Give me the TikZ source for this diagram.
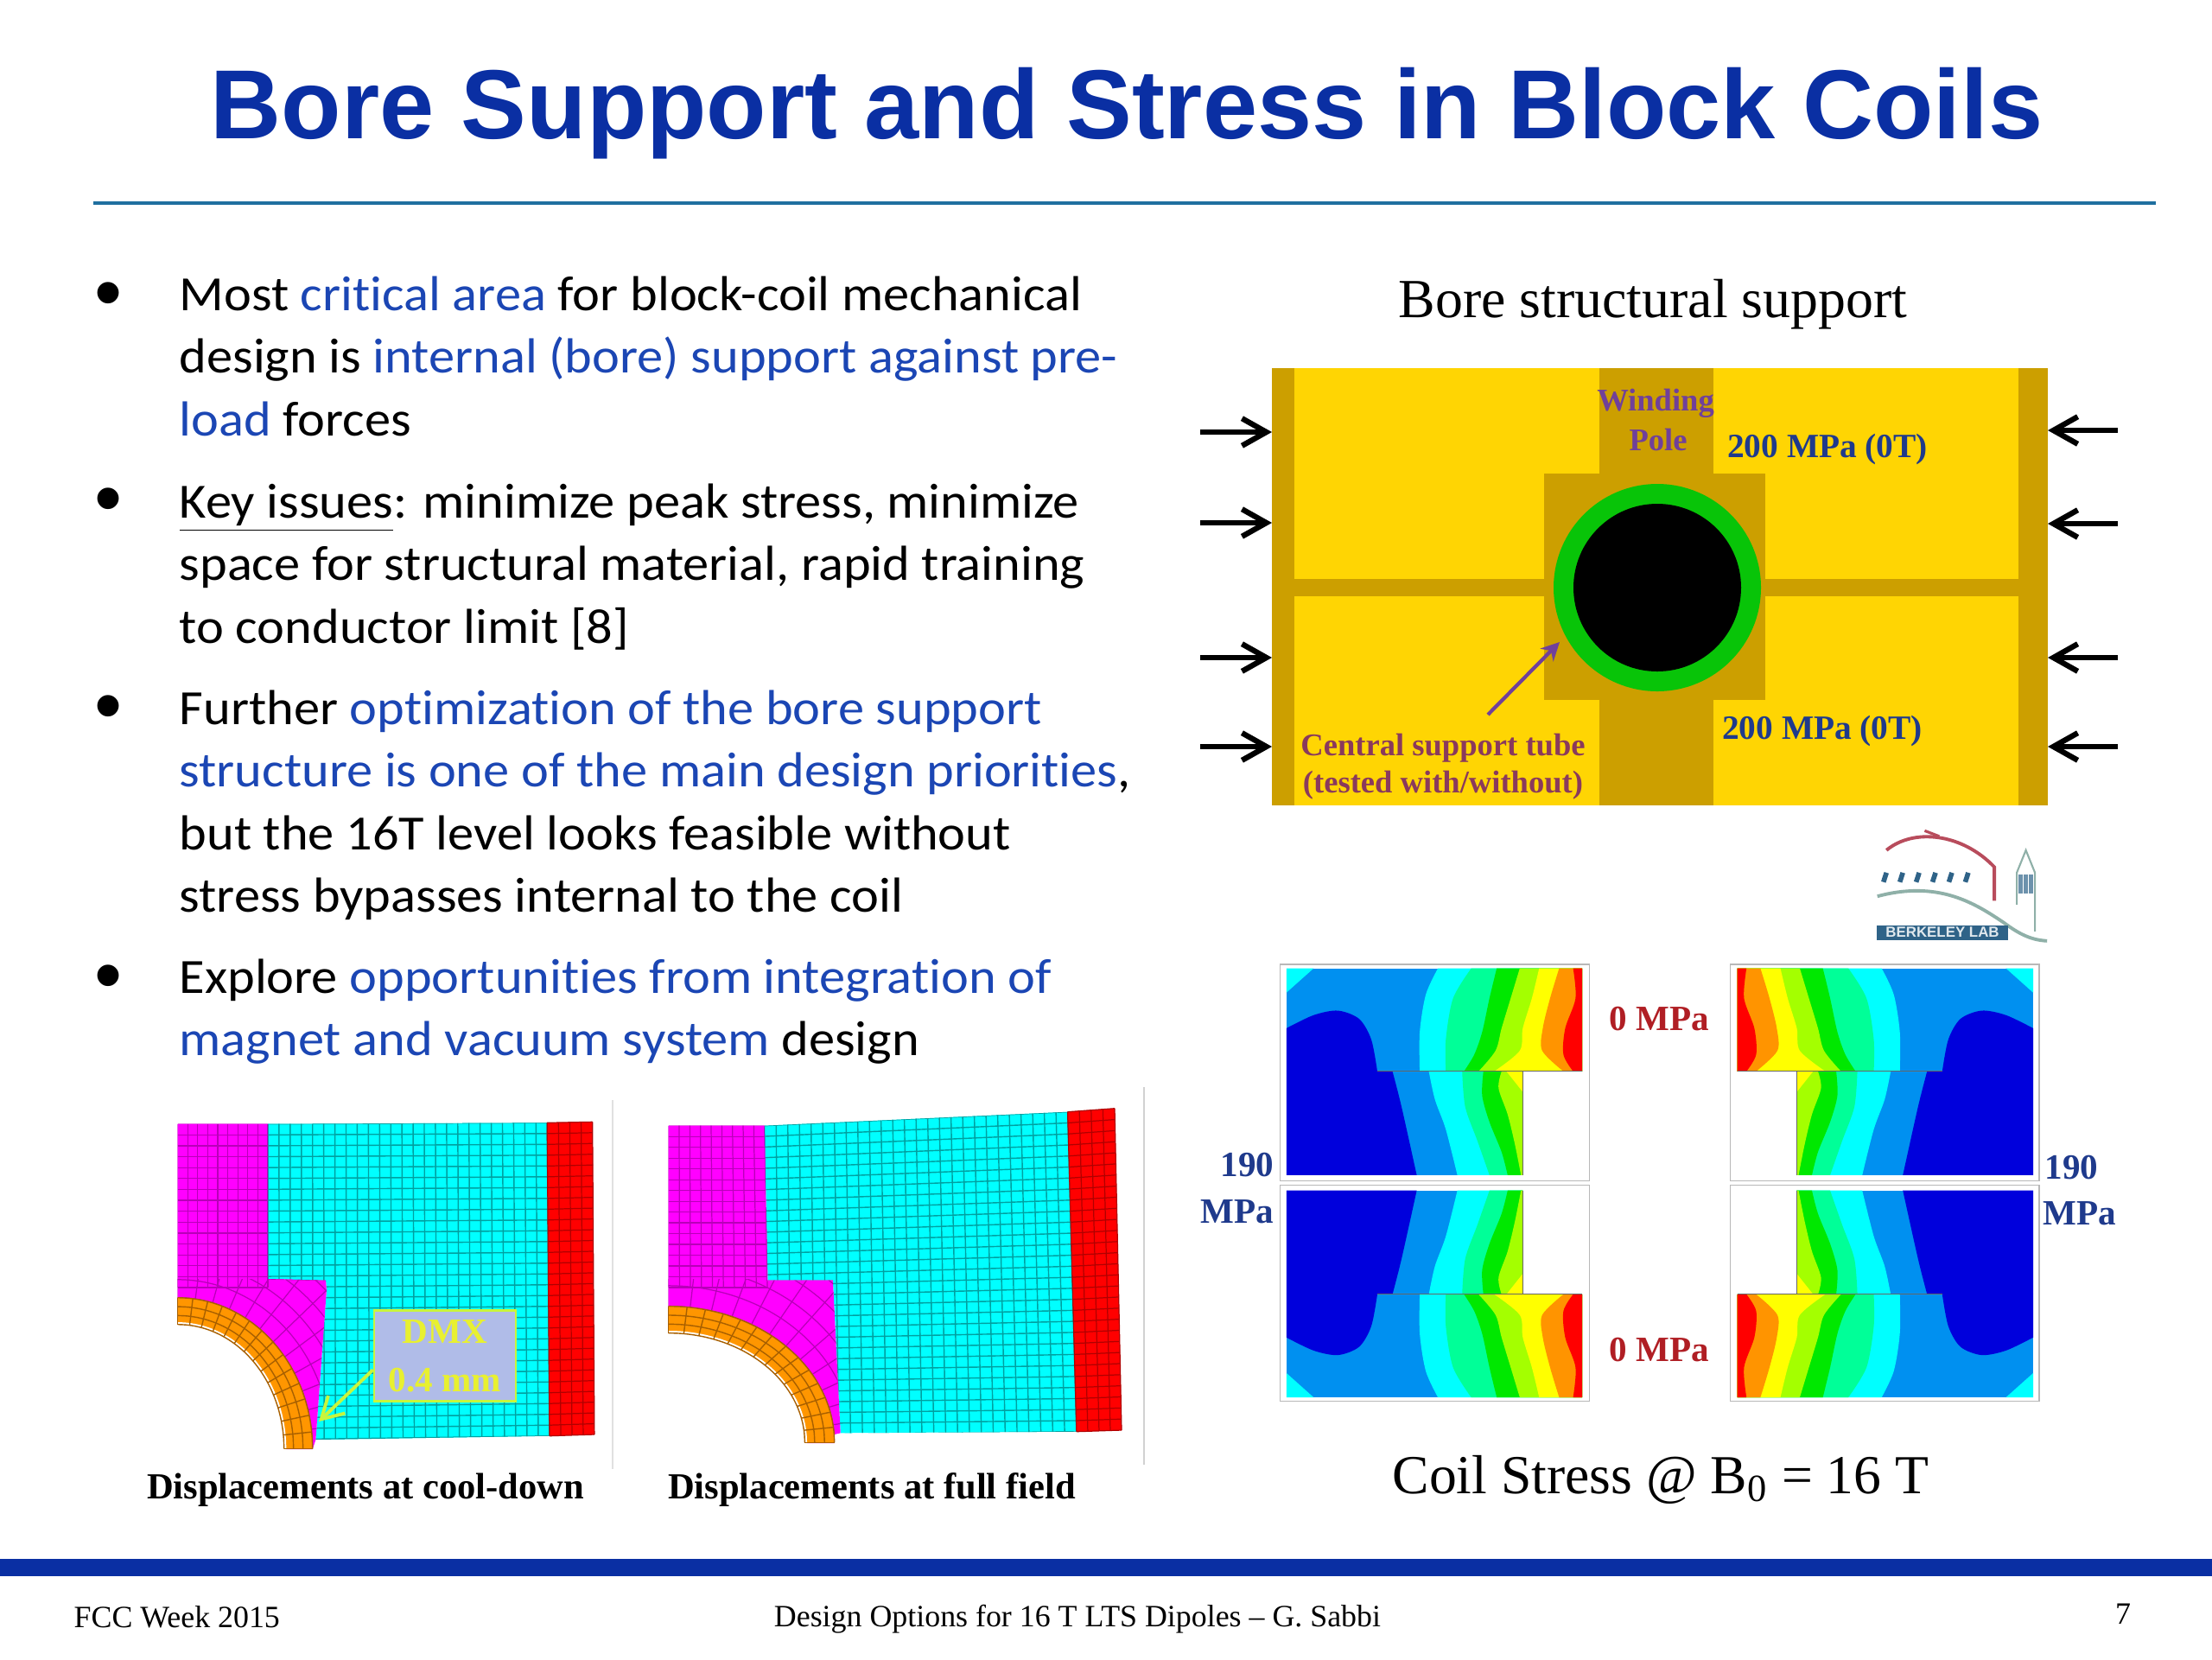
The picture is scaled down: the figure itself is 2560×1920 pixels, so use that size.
\documentclass[tikz,border=0pt]{standalone}
\usepackage{fontspec}
\setmainfont{Liberation Serif}
\newfontfamily\bodyfont[FakeStretch=1.06,Ligatures=NoCommon]{Carlito}
\newfontfamily\headfont{Liberation Sans}
\usetikzlibrary{arrows.meta,calc}
\definecolor{slideblue}{HTML}{0A2FA3}
\definecolor{textblue}{HTML}{1B46B4}
\definecolor{rulecolor}{HTML}{1F6F9F}
\definecolor{goldlight}{HTML}{FFD503}
\definecolor{golddark}{HTML}{CC9F00}
\definecolor{tubegreen}{HTML}{08C408}
\definecolor{labelblue}{HTML}{1F3A8C}
\definecolor{labelplum}{HTML}{8A3A5C}
\definecolor{labelpurple}{HTML}{70409A}
\definecolor{labelred}{HTML}{B01E24}
\definecolor{bandA}{HTML}{0000DC}
\definecolor{bandB}{HTML}{0090F0}
\definecolor{bandC}{HTML}{00FFFF}
\definecolor{bandD}{HTML}{00FF98}
\definecolor{bandE}{HTML}{00E800}
\definecolor{bandF}{HTML}{A4FF00}
\definecolor{bandG}{HTML}{FFFF00}
\definecolor{bandH}{HTML}{FF9400}
\definecolor{bandI}{HTML}{FF0000}
\definecolor{meshcyan}{HTML}{00FFFF}
\definecolor{meshpink}{HTML}{FF00FF}
\definecolor{meshorange}{HTML}{FF9600}
\definecolor{linecyan}{HTML}{00A0A0}
\definecolor{linepink}{HTML}{B800B8}
\definecolor{linered}{HTML}{B00000}
\definecolor{lineorange}{HTML}{A86000}
\definecolor{calloutedge}{HTML}{C8F53C}
\definecolor{calloutfill}{HTML}{B0BCE8}
\definecolor{callouttext}{HTML}{E8F030}
\definecolor{logored}{HTML}{B84C5C}
\definecolor{logoblue}{HTML}{2F6388}
\definecolor{logogreen}{HTML}{8FB0A8}
\tikzset{
%Define standard arrow tip
>={Straight Barb[length=8pt,width=9pt,line width=1.8pt]},
%Define style for the different labels
bodytext/.style={font=\bodyfont\fontsize{16.2}{20.6}\selectfont, anchor=north west, align=left, inner sep=0pt},
bulletdot/.style={font=\headfont\fontsize{26}{26}\selectfont, inner sep=0pt},
captiontext/.style={font=\bfseries\fontsize{12.1}{15}\selectfont, inner sep=0pt},
smalllabel/.style={font=\bfseries\fontsize{10.4}{13}\selectfont, inner sep=0pt},
loadlabel/.style={font=\bfseries\fontsize{11.2}{13}\selectfont, text=labelblue, inner sep=0pt},
sidelabel/.style={font=\bfseries\fontsize{11.7}{13}\selectfont, text=labelblue, inner sep=0pt},
footertext/.style={font=\fontsize{10.2}{12}\selectfont, inner sep=0pt},
pressarrow/.style={->, line width=1.8pt},
panelframe/.style={draw=black!28, line width=0.4pt},
pinkline/.style={linepink, line width=0.35pt},
cyanline/.style={linecyan, line width=0.4pt},
redline/.style={linered, line width=0.35pt},
orangeline/.style={lineorange, line width=0.4pt},
}
% Grid between four named corners
\newcommand{\meshgrid}[7]{%
\foreach \t in {0,...,#5} \draw[#7] ($(#1)!\t/#5!(#2)$) -- ($(#3)!\t/#5!(#4)$);
\foreach \t in {0,...,#6} \draw[#7] ($(#1)!\t/#6!(#3)$) -- ($(#2)!\t/#6!(#4)$);
}
% Quarter ring mesh: centre, inner radii, outer radii, rings, spokes, line
\newcommand{\ringmesh}[9]{%
\foreach \k in {0,...,#8} {
\pgfmathsetmacro\a{\k*90/#8}
\draw[#9] ({#1+#3*cos(\a)},{#2-#4*sin(\a)}) -- ({#1+#5*cos(\a)},{#2-#6*sin(\a)});
}
\foreach \k in {0,...,#7} {
\pgfmathsetmacro\f{\k/#7}
\draw[#9] plot[domain=0:90,samples=20,smooth,variable=\a] ({#1+(#3+\f*(#5-#3))*cos(\a)},{#2-(#4+\f*(#6-#4))*sin(\a)});
}
}
% One stress panel, upper left quadrant
\newcommand{\stresspanel}{%
\draw[panelframe] (145,360) rectangle (655,937);
\begin{scope}
\clip (155,370) rectangle (643,645);
\fill[bandB] (155,370) rectangle (643,645);
\fill[bandC] (155,370) -- (200,370) -- (155,435) -- cycle;
\fill[bandA] plot[smooth] coordinates {(155,530) (200,495) (240,483) (275,505) (295,560) (305,645)} -- (155,645) -- cycle;
\fill[bandC] plot[smooth] coordinates {(405,370) (385,440) (375,540) (375,645)} -- (700,645) -- (700,370) -- cycle;
\fill[bandD] plot[smooth] coordinates {(460,370) (430,450) (418,560) (418,645)} -- (700,645) -- (700,370) -- cycle;
\fill[bandE] plot[smooth] coordinates {(502,370) (490,450) (478,540) (465,600) (448,645)} -- (700,645) -- (700,370) -- cycle;
\fill[bandF] plot[smooth] coordinates {(540,370) (525,450) (510,530) (500,590) (472,645)} -- (700,645) -- (700,370) -- cycle;
\fill[bandG] plot[smooth] coordinates {(572,370) (560,450) (545,530) (540,590) (498,645)} -- (700,645) -- (700,370) -- cycle;
\fill[bandH] plot[smooth] coordinates {(605,370) (590,450) (578,530) (577,590) (612,645)} -- (700,645) -- (700,370) -- cycle;
\fill[bandI] plot[smooth] coordinates {(628,370) (632,450) (615,530) (612,600) (628,645)} -- (700,645) -- (700,370) -- cycle;
\end{scope}
\begin{scope}
\clip (155,645) rectangle (545,922);
\fill[bandB] (155,645) rectangle (545,922);
\fill[bandA] plot[smooth] coordinates {(330,645) (345,740) (370,922)} -- (155,922) -- (155,645) -- cycle;
\fill[bandC] plot[smooth] coordinates {(390,645) (400,720) (418,800) (437,922)} -- (600,922) -- (600,645) -- cycle;
\fill[bandD] plot[smooth] coordinates {(445,645) (450,740) (470,830) (490,922)} -- (600,922) -- (600,645) -- cycle;
\fill[bandE] plot[smooth] coordinates {(480,645) (478,710) (490,780) (510,860) (520,922)} -- (600,922) -- (600,645) -- cycle;
\fill[bandF] plot[smooth] coordinates {(510,645) (505,690) (520,760) (532,840) (542,922)} -- (600,922) -- (600,645) -- cycle;
\fill[bandG] (518,645) -- (545,645) -- (545,700) -- cycle;
\end{scope}
\draw[black!60, line width=0.3pt] (305,645) -- (643,645);
\draw[black!60, line width=0.3pt] (545,645) -- (545,922);
}

\begin{document}
\begin{tikzpicture}[x=0.01cm, y=-0.01cm]
\useasboundingbox (0,0) rectangle (2560,1920);
\fill[white] (0,0) rectangle (2560,1920);
% Title and footer
\node[font=\headfont\bfseries\fontsize{32.3}{36}\selectfont, text=slideblue, inner sep=0pt] (title) at (1304,131) {Bore Support and Stress in Block Coils};
\draw[rulecolor, line width=0.9pt] (108,235) -- (2495,235);
\fill[slideblue] (0,1804) rectangle (2560,1824);
\node[footertext, anchor=west] (footleft) at (85,1871) {FCC Week 2015};
\node[footertext] (footmid) at (1247,1874) {Design Options for 16 T LTS Dipoles -- G. Sabbi};
\node[footertext] (footpage) at (2457,1868) {7};
% Bullets
\foreach \y [count=\i] in {348,586,826,1138} \node[bulletdot] (bullet\i) at (126,\y) {\textbullet};
\node[bodytext] (itemA) at (207,319) {Most \textcolor{textblue}{critical area} for block-coil mechanical\\
design is \textcolor{textblue}{internal (bore) support against pre-}\\
\textcolor{textblue}{load} forces};
\node[bodytext] (itemB) at (207,559) {\underline{Key issues}: minimize peak stress, minimize\\
space for structural material, rapid training\\
to conductor limit [8]};
\node[bodytext] (itemC) at (207,798) {Further \textcolor{textblue}{optimization of the bore support}\\
\textcolor{textblue}{structure is one of the main design priorities},\\
but the 16T level looks feasible without\\
stress bypasses internal to the coil};
\node[bodytext] (itemD) at (207,1109) {Explore \textcolor{textblue}{opportunities from integration of}\\
\textcolor{textblue}{magnet and vacuum system} design};
% Bore structural support
\node[font=\fontsize{18.15}{20}\selectfont, inner sep=0pt] (boretitle) at (1913,352) {Bore structural support};
\fill[goldlight] (1472,426) rectangle (2370,932);
\fill[golddark] (1472,426) rectangle (1498,932);
\fill[golddark] (2336,426) rectangle (2370,932);
\fill[golddark] (1472,670) rectangle (2370,690);
\fill[golddark] (1851,426) rectangle (1983,932);
\fill[golddark] (1787,548) rectangle (2043,810);
\fill[tubegreen] (1918,680) circle (120);
\fill[black] (1918,680) circle (97);
\foreach \y [count=\i] in {500,605,761,864} {
\coordinate (pressL\i) at (1389,\y);
\coordinate (padL\i) at (1472,\y);
\draw[pressarrow] (pressL\i) -- (padL\i);
}
\foreach \y [count=\i] in {498,606,761,864} {
\coordinate (pressR\i) at (2451,\y);
\coordinate (padR\i) at (2370,\y);
\draw[pressarrow] (pressR\i) -- (padR\i);
}
\node[smalllabel, text=labelpurple] (winding) at (1916,467) {Winding};
\node[smalllabel, text=labelpurple] (pole) at (1919,509) {Pole};
\node[loadlabel] (loadtop) at (2115,520) {200 MPa (0T)};
\node[loadlabel] (loadbot) at (2109,846) {200 MPa (0T)};
\node[smalllabel, text=labelplum] (tubeA) at (1670,866) {Central support tube};
\node[smalllabel, text=labelplum] (tubeB) at (1670,909) {(tested with/without)};
\coordinate (tubetail) at (1722,827);
\coordinate (tubetip) at (1805,743);
\draw[labelpurple, line width=1.2pt, -{Stealth[length=6pt,width=6pt]}] (tubetail) -- (tubetip);
% Berkeley Lab logo
\begin{scope}[shift={(1380,960)}, xscale=0.7015, yscale=0.4337]
\draw[logored, line width=1.1pt] (1145,55) .. controls (1190,-5) and (1270,10) .. (1323,100) -- (1323,190);
\draw[logored, line width=0.9pt] (1208,3) -- (1232,18);
\foreach \x in {1140,1167,...,1300} \draw[logoblue, line width=1.6pt] (\x,140) -- (\x+5,115);
\draw[logogreen, line width=1.1pt] (1130,178) .. controls (1230,135) and (1290,195) .. (1340,250) .. controls (1365,280) and (1385,295) .. (1410,297);
\draw[logogreen, line width=0.6pt] (1360,200) -- (1360,115) -- (1375,55) -- (1390,115) -- (1390,272);
\draw[logoblue!70, line width=1.4pt] (1366,120) -- (1366,170) (1375,120) -- (1375,170) (1384,120) -- (1384,170);
\end{scope}
\node[fill=logoblue, text=white!85!logoblue, font=\headfont\bfseries\fontsize{4.8}{5}\selectfont, minimum width=1.51cm, minimum height=0.17cm, inner sep=0pt] (lablogo) at (2248,1079) {BERKELEY LAB};
% Coil stress panels
\foreach \sx/\sy in {0.7015/0.4337,-0.7015/0.4337,0.7015/-0.4337,-0.7015/-0.4337} {
\begin{scope}[shift={(1920.9,1368.8)}, xscale=\sx, yscale=\sy, shift={(-771,-942.5)}]
\stresspanel
\end{scope}
}
\node[sidelabel, text=labelred] (zerotop) at (1920,1179) {0 MPa};
\node[sidelabel, text=labelred] (zerobot) at (1920,1562) {0 MPa};
\node[sidelabel, anchor=east] (sigmaL) at (1475,1348) {190};
\node[sidelabel, anchor=east] (mpaL) at (1475,1402) {MPa};
\node[sidelabel, anchor=west] (sigmaR) at (2366,1351) {190};
\node[sidelabel, anchor=west] (mpaR) at (2364,1404) {MPa};
\node[font=\fontsize{18.1}{20}\selectfont, inner sep=0pt] (coiltitle) at (1922,1712) {Coil Stress @ B\textsubscript{0} = 16 T};
% Separators
\draw[black!12, line width=0.5pt] (709,1273) -- (709,1700);
\draw[black!18, line width=0.5pt] (1324,1258) -- (1324,1695);
% Mesh at cool-down
\coordinate (cA) at (310,1300.7);
\coordinate (cB) at (633.2,1299.3);
\coordinate (cC) at (310,1666);
\coordinate (cD) at (636,1661.7);
\coordinate (rA) at (633.2,1299.3);
\coordinate (rB) at (685.7,1298.3);
\coordinate (rC) at (636,1661.7);
\coordinate (rD) at (687.9,1660);
\coordinate (mA) at (205.7,1300.7);
\coordinate (mB) at (310,1300.7);
\coordinate (mC) at (205.7,1490);
\coordinate (mD) at (310,1490);
\begin{scope}
\clip (310,1300.7) -- (633.2,1299.3) -- (636,1661.7) -- (365.4,1666) -- (377.9,1493.3) -- (377.1,1481.7) -- (310,1480) -- cycle;
\fill[meshcyan] (300,1290) rectangle (640,1670);
\meshgrid{cA}{cB}{cC}{cD}{25}{29}{cyanline}
\end{scope}
\fill[red] (rA) -- (rB) -- (rD) -- (rC) -- cycle;
\meshgrid{rA}{rB}{rC}{rD}{4}{29}{redline}
\begin{scope}
\clip (205.7,1300.7) -- (310,1300.7) -- (310,1480) -- (377.1,1481.7) -- (377.9,1493.3) -- (365.4,1666) -- (361.8,1677) -- (205.7,1677) -- cycle;
\fill[meshpink] (200,1290) rectangle (390,1680);
\meshgrid{mA}{mB}{mC}{mD}{9}{15}{pinkline}
\clip (205.7,1480) rectangle (390,1680);
\ringmesh{205.7}{1676.7}{156}{175}{243}{259}{4}{12}{pinkline}
\draw[pinkline] (310,1480) -- (377.1,1481.7);
\end{scope}
\fill[meshorange] (205.7,1676.7) -- plot[domain=0:90,samples=30,smooth,variable=\a] ({205.7+156*cos(\a)},{1676.7-175*sin(\a)}) -- cycle;
\fill[white, draw=white, line width=1.5pt] (200,1682) -- (200,1532.7) -- plot[domain=90:0,samples=30,smooth,variable=\a] ({205.7+123*cos(\a)},{1676.7-144*sin(\a)}) -- (328.7,1682) -- cycle;
\ringmesh{205.7}{1676.7}{123}{144}{156}{175}{3}{14}{orangeline}
\node[draw=calloutedge, fill=calloutfill, line width=0.8pt, text=callouttext, font=\bfseries\fontsize{11.7}{15}\selectfont, align=center, minimum width=1.64cm, minimum height=1.05cm, inner sep=0pt] (dmxbox) at (515,1569) {DMX\\[1pt]0.4 mm};
\coordinate (dmxtip) at (369,1645);
\draw[calloutedge, line width=1.1pt, -{Straight Barb[length=7pt,width=8pt]}] (dmxbox.191) -- (dmxtip);
\node[captiontext] (capA) at (423,1724) {Displacements at cool-down};
% Mesh at full field
\coordinate (cA) at (884.7,1302.7);
\coordinate (cB) at (1235.6,1286.7);
\coordinate (cC) at (888,1660);
\coordinate (cD) at (1245.9,1656.7);
\coordinate (rA) at (1235.6,1286.7);
\coordinate (rB) at (1290,1282.7);
\coordinate (rC) at (1245.9,1656.7);
\coordinate (rD) at (1298,1655);
\coordinate (mA) at (773.7,1302.7);
\coordinate (mB) at (884.7,1302.7);
\coordinate (mC) at (773.7,1490);
\coordinate (mD) at (888,1490);
\begin{scope}
\clip (884.7,1302.7) -- (1235.6,1286.7) -- (1245.9,1656.7) -- (972.7,1658.3) -- (963.9,1481.7) -- (888.5,1481.7) -- cycle;
\fill[meshcyan] (870,1280) rectangle (1250,1665);
\meshgrid{cA}{cB}{cC}{cD}{26}{29}{cyanline}
\end{scope}
\fill[red] (rA) -- (rB) -- (rD) -- (rC) -- cycle;
\meshgrid{rA}{rB}{rC}{rD}{4}{29}{redline}
\begin{scope}
\clip (773.7,1302.7) -- (884.7,1302.7) -- (888.5,1481.7) -- (963.9,1481.7) -- (972.7,1658.3) -- (965.8,1660) -- (965.8,1670) -- (773.7,1670) -- cycle;
\fill[meshpink] (770,1290) rectangle (980,1675);
\meshgrid{mA}{mB}{mC}{mD}{9}{15}{pinkline}
\clip (773.7,1480) rectangle (980,1675);
\ringmesh{773.7}{1669.3}{192}{157.7}{277}{253}{4}{12}{pinkline}
\draw[pinkline] (888.5,1481.7) -- (963.9,1481.7);
\end{scope}
\fill[meshorange] (773.7,1669.3) -- plot[domain=0:90,samples=30,smooth,variable=\a] ({773.7+192*cos(\a)},{1669.3-157.7*sin(\a)}) -- cycle;
\fill[white, draw=white, line width=1.5pt] (768,1675) -- (768,1542.6) -- plot[domain=90:0,samples=30,smooth,variable=\a] ({773.7+157.7*cos(\a)},{1669.3-126.7*sin(\a)}) -- (931.4,1675) -- cycle;
\ringmesh{773.7}{1669.3}{157.7}{126.7}{192}{157.7}{3}{14}{orangeline}
\node[captiontext] (capB) at (1009,1724) {Displacements at full field};
\end{tikzpicture}
\end{document}
